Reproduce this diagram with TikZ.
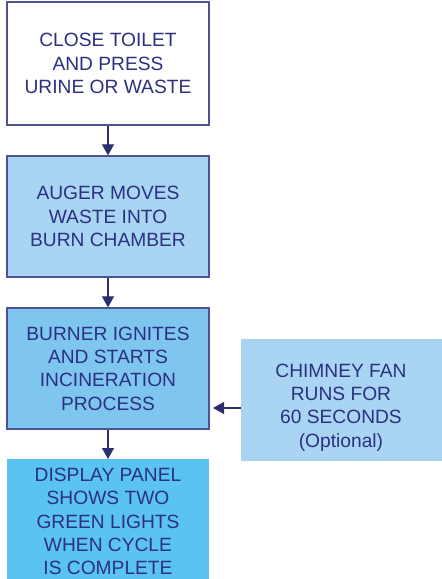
\documentclass[tikz,border=0pt]{standalone}
\usepackage{fontspec}
\setmainfont{Liberation Sans}
\usetikzlibrary{arrows.meta}
\definecolor{navy}{HTML}{2B3180}
\definecolor{edgec}{HTML}{4E5393}
\definecolor{arrowc}{HTML}{2A2F6E}
\definecolor{fillA}{HTML}{A9D4F2}
\definecolor{fillB}{HTML}{7FC6EE}
\definecolor{fillC}{HTML}{5BC3EF}
\tikzset{
  stepbox/.style={rectangle, draw=edgec, line width=1.3pt, minimum width=202pt, align=center,
    font=\fontsize{19.2pt}{23.4pt}\selectfont, text=navy, inner sep=0pt},
  plainbox/.style={rectangle, draw=none, minimum width=202pt, align=center,
    font=\fontsize{19.2pt}{23.4pt}\selectfont, text=navy, inner sep=0pt},
  flow/.style={draw=arrowc, line width=1.1pt, -{Triangle[width=12pt,length=11pt]}}
}
\begin{document}
\begin{tikzpicture}[x=1pt,y=-1pt]
\useasboundingbox (0,0) rectangle (442,579);
\begin{scope}
\clip (0,0) rectangle (442,579);
\node[stepbox, fill=white, minimum height=123pt] (b1) at (108,63.5) {CLOSE TOILET\\AND PRESS\\URINE OR WASTE};
\node[stepbox, fill=fillA, minimum height=121pt] (b2) at (108,216.5) {AUGER MOVES\\WASTE INTO\\BURN CHAMBER};
\node[stepbox, fill=fillB, minimum height=121pt] (b3) at (108,368.5) {BURNER IGNITES\\AND STARTS\\INCINERATION\\PROCESS};
\node[plainbox, fill=fillC, minimum height=130pt, anchor=north] (b4) at (108,459) {\raisebox{0pt}{}};
\node[plainbox, fill=fillA, minimum width=202pt, minimum height=122pt] (cf) at (342,400) {};
\end{scope}
\node[font=\fontsize{19.2pt}{23.4pt}\selectfont, text=navy, align=center, inner sep=0pt] (t4) at (108,521.5) {DISPLAY PANEL\\SHOWS TWO\\GREEN LIGHTS\\WHEN CYCLE\\IS COMPLETE};
\node[font=\fontsize{19.2pt}{23.4pt}\selectfont, text=navy, align=center, inner sep=0pt] (tc) at (341,407.5) {CHIMNEY FAN\\RUNS FOR\\60 SECONDS\\(Optional)};
\draw[flow] (b1.south) -- (b2.north);
\draw[flow] (b2.south) -- (b3.north);
\draw[flow] (b3.south) -- (b4.north);
\coordinate (cfin) at (213,408);
\draw[flow] (cf.west |- cfin) -- (cfin);
\end{tikzpicture}
\end{document}
